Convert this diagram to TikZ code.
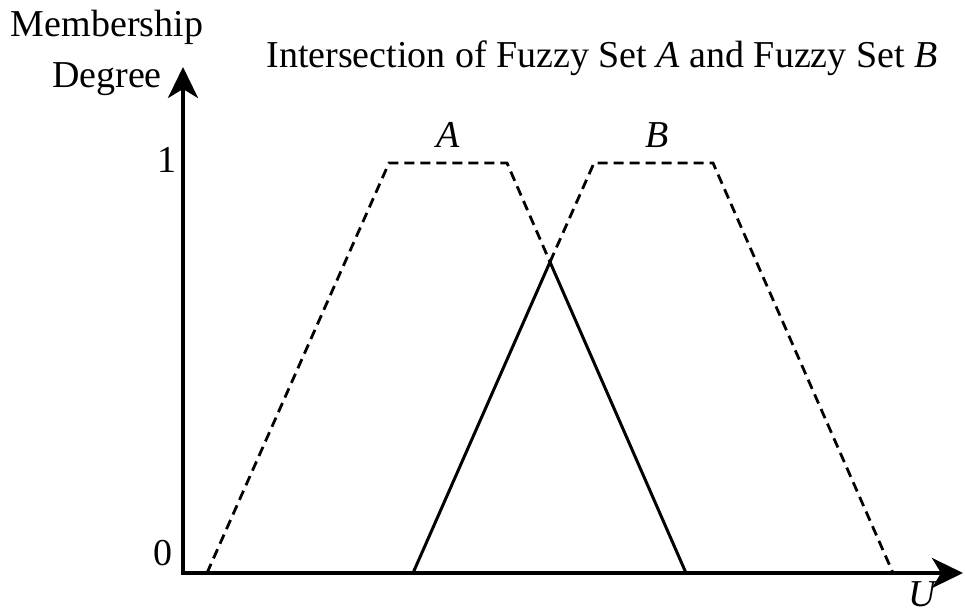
\documentclass[tikz,border=0pt]{standalone}
\usepackage{fontspec}
\setmainfont{Liberation Serif}
\usetikzlibrary{arrows.meta,positioning}

\begin{document}
\begin{tikzpicture}[
    x=1pt, y=-1pt,
    >={Stealth[length=31pt,width=30pt,inset=9pt]},
    every node/.style={font=\fontsize{38}{51}\selectfont, inner sep=0pt},
    axis/.style={line width=4pt},
    fuzzy/.style={line width=2.8pt, dash pattern=on 10pt off 6pt},
    meet/.style={line width=3pt}
]
\useasboundingbox (0,0) rectangle (965,615);
% axes
\coordinate (origin) at (183,573);
\coordinate (ytip) at (183,67);
\coordinate (xtip) at (963,573);
\draw[axis, ->] (origin) -- (ytip);
\draw[axis, ->] ([xshift=-2pt]origin) -- (xtip);
% labels
\node[align=center, anchor=base] (ylabel) at (107,88) {Membership\\Degree};
\node[anchor=base] (title) at (602,68) {Intersection of Fuzzy Set \textit{A} and Fuzzy Set \textit{B}};
\node[anchor=base] (one) at (167,172) {1};
\node[anchor=base] (zero) at (163,565) {0};
\node[anchor=base] (ulabel) at (923,606) {\textit{U}};
% fuzzy set A
\coordinate (a1) at (207,573);
\coordinate (a2) at (389,163);
\coordinate (a3) at (507,163);
\coordinate (a4) at (686,573);
% fuzzy set B
\coordinate (b1) at (413,573);
\coordinate (b2) at (594,163);
\coordinate (b3) at (713,163);
\coordinate (b4) at (893,573);
\coordinate (cross) at (550,262);
\node[anchor=base] (alabel) at (448,147) {\textit{A}};
\node[anchor=base] (blabel) at (657,147) {\textit{B}};
\draw[fuzzy] (a1) -- (a2) -- (a3) -- (cross);
\draw[fuzzy] (cross) -- (b2) -- (b3) -- (b4);
% intersection
\draw[meet] (b1) -- (cross) -- (a4);
\end{tikzpicture}
\end{document}
